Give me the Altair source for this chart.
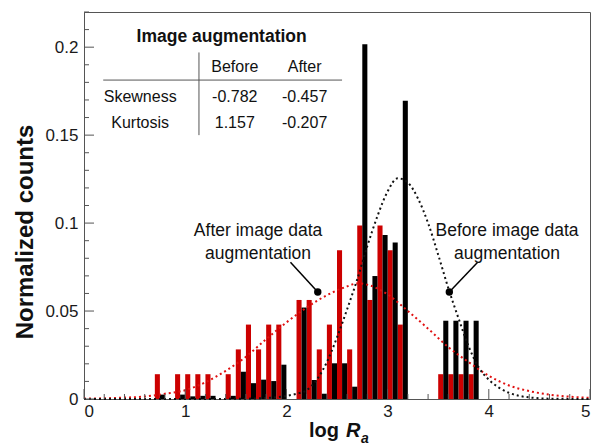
import altair as alt
import numpy as np
import pandas as pd

# ---- histogram of log Ra (0.1-wide bins, left edges) ----
bin_left = [0.7, 0.9, 1.0, 1.1, 1.2, 1.4, 1.5, 1.6, 1.7, 1.8, 1.9, 2.1, 2.2,
            2.3, 2.4, 2.5, 2.6, 2.7, 2.8, 2.9, 3.0, 3.1, 3.5, 3.6, 3.7, 3.8]
after_vals = [0.0141, 0.0141, 0.0141, 0.0141, 0.0141, 0.0141, 0.0282, 0.0423,
              0.0282, 0.0423, 0.0423, 0.0563, 0.0563, 0.0282, 0.0423, 0.0845,
              0.0282, 0.0986, 0.0563, 0.0986, 0.0845, 0.0423, 0.0141, 0.0141,
              0.0141, 0.0141]
before_vals = [0.0025, 0.0025, 0.0015, 0.0018, 0.0018, 0.0018, 0.0155, 0.0090,
               0.0110, 0.0102, 0.0195, 0.0520, 0.0108, 0.0030, 0.0203, 0.0203,
               0.0070, 0.2017, 0.0699, 0.0932, 0.0890, 0.1695, 0.0445, 0.0445,
               0.0445, 0.0445]

# ---- fitted distributions ----
fit_before_x = [0.0, 0.5, 1.0, 1.5, 1.8, 2.0, 2.1, 2.2, 2.3, 2.4, 2.5, 2.6, 2.7,
                2.8, 2.9, 3.0, 3.1, 3.2, 3.3, 3.4, 3.5, 3.6, 3.7, 3.8, 3.9, 4.0,
                4.1, 4.2, 4.3, 4.4, 4.6, 5.0]
fit_before_y = [0.0, 0.0, 0.0, 0.0001, 0.0006, 0.0018, 0.003, 0.005, 0.011,
                0.021, 0.035, 0.051, 0.068, 0.087, 0.104, 0.118, 0.1255, 0.123,
                0.114, 0.100, 0.082, 0.063, 0.046, 0.030, 0.018, 0.011, 0.0065,
                0.0035, 0.0018, 0.0009, 0.0002, 0.0]
fit_after_x = [0.0, 0.2, 0.4, 0.6, 0.8, 1.0, 1.2, 1.4, 1.6, 1.8, 2.0, 2.2, 2.4,
               2.6, 2.7, 2.8, 3.0, 3.2, 3.4, 3.6, 3.8, 4.0, 4.2, 4.4, 4.6, 4.8,
               5.0]
fit_after_y = [0.0002, 0.0004, 0.0008, 0.0014, 0.003, 0.005, 0.0095, 0.016,
               0.024, 0.034, 0.0435, 0.052, 0.059, 0.064, 0.0657, 0.065, 0.0595,
               0.050, 0.040, 0.0295, 0.021, 0.0132, 0.0077, 0.0045, 0.0025,
               0.0013, 0.0007]

# ---- statistics table ----
table_cols = ["Before", "After"]
table_rows = ["Skewness", "Kurtosis"]
table_vals = [["-0.782", "-0.457"], ["1.157", "-0.207"]]

RED = "#cc0000"
FONT = "Liberation Sans"
W, H = 506, 387
X = alt.Scale(domain=[0, 5], nice=False, zero=False)
Y = alt.Scale(domain=[0, 0.22], nice=False, zero=True)

bars = pd.DataFrame({"left": bin_left, "after": after_vals, "before": before_vals})
bars["a0"] = bars["left"]
bars["a1"] = bars["left"] + 0.05
bars["b0"] = bars["left"] + 0.05
bars["b1"] = bars["left"] + 0.1
bars["zero"] = 0.0

red_bars = alt.Chart(bars).mark_rect(color=RED).encode(
    x=alt.X("a0:Q", scale=X, axis=alt.Axis(values=[0, 1, 2, 3, 4, 5], format="d",
            ticks=False, grid=False, labelFontSize=17, labelFont=FONT,
            labelColor="#1a1a1a", labelPadding=4, domainColor="#555",
            title=None)),
    x2="a1:Q",
    y=alt.Y("after:Q", scale=Y, axis=alt.Axis(values=[0, 0.05, 0.1, 0.15, 0.2],
            format="~g", ticks=False, grid=False, labelFontSize=17,
            labelFont=FONT, labelColor="#1a1a1a", labelPadding=6,
            domainColor="#555", title=None)),
    y2="zero:Q",
)
black_bars = alt.Chart(bars).mark_rect(color="black").encode(
    x="b0:Q", x2="b1:Q", y="before:Q", y2="zero:Q")

fit_a = pd.DataFrame({"x": fit_after_x, "y": fit_after_y})
fit_b = pd.DataFrame({"x": fit_before_x, "y": fit_before_y})
line_a = alt.Chart(fit_a).mark_line(color="#e01010", strokeWidth=2,
                                    strokeDash=[2, 3], interpolate="monotone").encode(
    x=alt.X("x:Q", scale=X), y=alt.Y("y:Q", scale=Y))
line_b = alt.Chart(fit_b).mark_line(color="#111", strokeWidth=2,
                                    strokeDash=[2, 3], interpolate="monotone").encode(
    x=alt.X("x:Q", scale=X), y=alt.Y("y:Q", scale=Y))

# ---- callouts ----
callouts = pd.DataFrame({
    "x0": [2.04, 3.89], "y0": [0.0778, 0.0778],
    "x1": [2.31, 3.61], "y1": [0.0608, 0.0608],
})
leaders = alt.Chart(callouts).mark_rule(color="black", strokeWidth=1.5).encode(
    x="x0:Q", y="y0:Q", x2="x1:Q", y2="y1:Q")
dots = alt.Chart(callouts).mark_circle(color="black", opacity=1, size=55).encode(
    x="x1:Q", y="y1:Q")
callout_text = pd.DataFrame({
    "x": [1.72, 1.72, 4.18, 4.18],
    "y": [0.0955, 0.0825, 0.0955, 0.0825],
    "t": ["After image data", "augmentation", "Before image data", "augmentation"],
})
ctext = alt.Chart(callout_text).mark_text(font=FONT, fontSize=17.5, color="#111",
                                          baseline="middle").encode(
    x="x:Q", y="y:Q", text="t:N")

# ---- inset table ----
cells = pd.DataFrame({
    "x": [1.49, 2.18, 0.555, 0.555, 1.49, 2.18, 1.49, 2.18],
    "y": [0.1885, 0.1885, 0.1715, 0.1570, 0.1715, 0.1715, 0.1570, 0.1570],
    "t": table_cols + table_rows + [table_vals[0][0], table_vals[0][1],
                                    table_vals[1][0], table_vals[1][1]],
})
tcells = alt.Chart(cells).mark_text(font=FONT, fontSize=16, color="#111",
                                    baseline="middle").encode(
    x="x:Q", y="y:Q", text="t:N")
ttitle = alt.Chart(pd.DataFrame({"x": [1.36], "y": [0.2057],
                                 "t": ["Image augmentation"]})).mark_text(
    font=FONT, fontSize=17.5, fontWeight="bold", color="#111", baseline="middle").encode(
    x="x:Q", y="y:Q", text="t:N")
trules = alt.Chart(pd.DataFrame({
    "x0": [0.19, 1.136], "x1": [2.55, 1.136],
    "y0": [0.1813, 0.197], "y1": [0.1813, 0.150],
})).mark_rule(color="#555", strokeWidth=1).encode(
    x="x0:Q", x2="x1:Q", y="y0:Q", y2="y1:Q")

# ---- inward tick marks ----
x_major = [0, 1, 2, 3, 4, 5]
x_minor = [v for v in np.round(np.arange(0, 5.01, 0.2), 2) if v not in x_major]
y_major = [0, 0.05, 0.1, 0.15, 0.2]
y_minor = [v for v in np.round(np.arange(0, 0.2201, 0.01), 2) if v not in y_major]

def xticks(vals, length):
    return alt.Chart(pd.DataFrame({"v": vals})).mark_rule(
        color="#555", strokeWidth=1).encode(
        x=alt.X("v:Q", scale=X), y=alt.value(H), y2=alt.value(H - length))

def yticks(vals, length):
    return alt.Chart(pd.DataFrame({"v": vals})).mark_rule(
        color="#555", strokeWidth=1).encode(
        y=alt.Y("v:Q", scale=Y), x=alt.value(0), x2=alt.value(length))

# ---- axis titles ----
xtitle_parts = pd.DataFrame({"t": ["log", "R", "a"]})
xt_log = alt.Chart(xtitle_parts.iloc[[0]]).mark_text(
    font=FONT, fontSize=20, fontWeight="bold", align="left", baseline="alphabetic",
    color="#111").encode(x=alt.value(225), y=alt.value(425), text="t:N")
xt_r = alt.Chart(xtitle_parts.iloc[[1]]).mark_text(
    font=FONT, fontSize=20, fontWeight="bold", fontStyle="italic", align="left",
    baseline="alphabetic", color="#111").encode(
    x=alt.value(262), y=alt.value(425), text="t:N")
xt_a = alt.Chart(xtitle_parts.iloc[[2]]).mark_text(
    font=FONT, fontSize=14, fontWeight="bold", fontStyle="italic", align="left",
    baseline="alphabetic", color="#111").encode(
    x=alt.value(277), y=alt.value(431), text="t:N")
ytitle = alt.Chart(pd.DataFrame({"t": ["Normalized counts"]})).mark_text(
    font=FONT, fontSize=24, fontWeight="bold", angle=270, align="center",
    baseline="middle", color="#111").encode(
    x=alt.value(-58), y=alt.value(220), text="t:N")

chart = alt.layer(
    red_bars, black_bars, line_a, line_b, leaders, dots, ctext,
    trules, tcells, ttitle,
    xticks(x_major, 10), xticks(x_minor, 5), yticks(y_major, 10), yticks(y_minor, 5),
    xt_log, xt_r, xt_a, ytitle,
).properties(
    width=W, height=H, autosize="none",
    padding={"left": 84, "top": 12, "right": 4, "bottom": 46},
    background="white",
).configure_view(stroke="#555", strokeWidth=1)

chart.save("out.html", embed_options={"renderer": "svg", "actions": False})
